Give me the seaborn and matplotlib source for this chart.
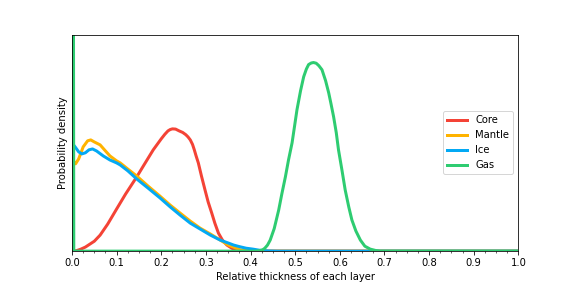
import seaborn as sns
import matplotlib.pyplot as plt
from matplotlib.ticker import MultipleLocator

# values (relative thickness vs. density)
core_x = [0.0, 0.01, 0.02, 0.03, 0.04, 0.05, 0.063, 0.08, 0.1, 0.12, 0.145, 0.16, 0.182, 0.2,
          0.208, 0.215, 0.22, 0.225, 0.232, 0.24, 0.248, 0.255, 0.26, 0.265, 0.27, 0.274,
          0.278, 0.283, 0.29, 0.298, 0.305, 0.313, 0.32, 0.328, 0.337, 0.347, 0.358, 0.369,
          0.385, 1.0]
core_y = [0.0, 0.02, 0.09, 0.18, 0.31, 0.44, 0.71, 1.20, 1.87, 2.53, 3.29, 3.78, 4.49, 4.98,
          5.18, 5.33, 5.39, 5.42, 5.41, 5.33, 5.26, 5.16, 5.06, 4.93, 4.73, 4.49,
          4.22, 3.91, 3.33, 2.71, 2.18, 1.69, 1.24, 0.80, 0.49, 0.27, 0.13, 0.04,
          0.0, 0.0]

mantle_x = [0.0, 0.008, 0.015, 0.025, 0.035, 0.042, 0.05, 0.063, 0.075, 0.085, 0.1, 0.108,
            0.125, 0.145, 0.17, 0.197, 0.22, 0.242, 0.265, 0.287, 0.31, 0.332, 0.35, 0.362,
            0.375, 0.39, 0.41, 1.0]
mantle_y = [4.09, 3.87, 4.09, 4.62, 4.89, 4.93, 4.84, 4.71, 4.44, 4.22, 4.0, 3.91,
            3.64, 3.33, 2.89, 2.44, 2.04, 1.69, 1.33, 1.02, 0.76, 0.49, 0.27, 0.18,
            0.07, 0.02, 0.0, 0.0]

ice_x = [0.0, 0.007, 0.015, 0.022, 0.03, 0.038, 0.046, 0.055, 0.07, 0.085, 0.1, 0.108,
         0.125, 0.145, 0.17, 0.197, 0.22, 0.242, 0.265, 0.287, 0.31, 0.332, 0.35, 0.362,
         0.375, 0.39, 0.405, 0.42, 0.44, 0.46, 1.0]
ice_y = [4.8, 4.62, 4.4, 4.31, 4.36, 4.49, 4.53, 4.44, 4.22, 4.04, 3.91, 3.82,
         3.56, 3.2, 2.8, 2.36, 1.96, 1.6, 1.24, 0.98, 0.71, 0.49, 0.36, 0.27,
         0.2, 0.13, 0.09, 0.04, 0.01, 0.0, 0.0]

gas_x = [0.0, 0.004, 0.41, 0.42, 0.427, 0.432, 0.438, 0.444, 0.453, 0.463, 0.47, 0.478,
         0.485, 0.493, 0.499, 0.504, 0.512, 0.519, 0.525, 0.53, 0.536, 0.541, 0.547, 0.553,
         0.56, 0.568, 0.575, 0.58, 0.586, 0.592, 0.597, 0.605, 0.612, 0.62, 0.627, 0.636,
         0.646, 0.656, 0.668, 0.68, 0.69, 1.0]
gas_y = [60.0, 0.0, 0.0, 0.02, 0.06, 0.13, 0.27, 0.49, 1.0, 1.82, 2.53, 3.29,
         4.04, 4.8, 5.6, 6.27, 7.11, 7.73, 8.07, 8.27, 8.34, 8.36, 8.33, 8.22,
         8.04, 7.56, 7.02, 6.55, 5.96, 5.25, 4.49, 3.56, 2.71, 1.96, 1.38, 0.89,
         0.49, 0.22, 0.09, 0.03, 0.0, 0.0]

layers = ['Core', 'Mantle', 'Ice', 'Gas']
colors = ['#f44336', '#ffb300', '#03a9f4', '#2ecc71']
xs = [core_x, mantle_x, ice_x, gas_x]
ys = [core_y, mantle_y, ice_y, gas_y]

fig, ax = plt.subplots(figsize=(8, 4), dpi=72)
fig.subplots_adjust(left=0.125, right=0.9, top=0.88, bottom=0.128)

for name, c, x, y in zip(layers, colors, xs, ys):
    sns.lineplot(x=x, y=y, ax=ax, color=c, lw=3, label=name, sort=False)

ax.set_xlim(0, 1)
ax.set_ylim(0, 9.6)
ax.set_yticks([])
ax.xaxis.set_major_locator(MultipleLocator(0.1))
ax.xaxis.set_minor_locator(MultipleLocator(0.025))
ax.set_xlabel('Relative thickness of each layer')
ax.set_ylabel('Probability density')
ax.legend(loc='center right')

plt.savefig('out.png', dpi=72)
